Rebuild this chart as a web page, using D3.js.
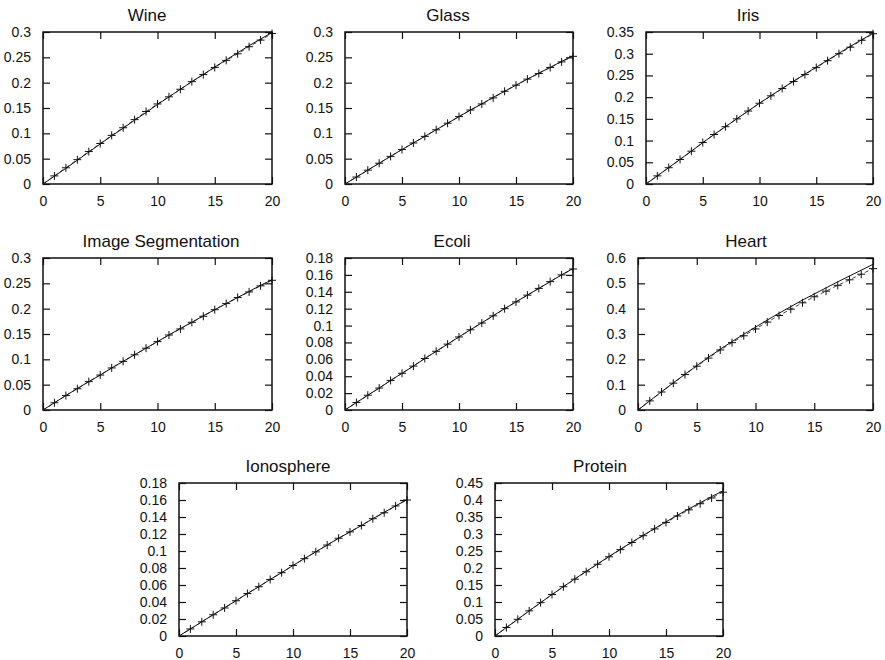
<!DOCTYPE html>
<html>
<head>
<meta charset="utf-8">
<script src="https://cdn.jsdelivr.net/npm/d3@7"></script>
<style>
  body { margin: 0; background: #fff; }
  svg { display: block; }
  text { font-family: "Liberation Sans", Arial, Helvetica, sans-serif; fill: #111; }
</style>
</head>
<body>
<div id="chart"></div>
<script>
// number of dimensions on the x axis of every panel
const dims = [0, 1, 2, 3, 4, 5, 6, 7, 8, 9, 10, 11, 12, 13, 14, 15, 16, 17, 18, 19, 20];
const xTicks = [0, 5, 10, 15, 20];

const wineModel = [0, 0.0155, 0.031, 0.047, 0.063, 0.079, 0.095, 0.110, 0.126, 0.141, 0.157, 0.172, 0.187, 0.202, 0.216, 0.231, 0.245, 0.259, 0.273, 0.286, 0.299];
const wineObs = [0, 0.016, 0.032, 0.048, 0.064, 0.080, 0.096, 0.111, 0.127, 0.143, 0.158, 0.172, 0.187, 0.202, 0.216, 0.230, 0.244, 0.257, 0.271, 0.284, 0.297];

const glassModel = [0, 0.0137, 0.0274, 0.041, 0.0547, 0.068, 0.081, 0.094, 0.107, 0.120, 0.133, 0.146, 0.158, 0.171, 0.183, 0.195, 0.207, 0.219, 0.230, 0.242, 0.253];
const glassObs = [0, 0.0137, 0.0273, 0.041, 0.0545, 0.068, 0.081, 0.094, 0.107, 0.120, 0.133, 0.146, 0.158, 0.170, 0.183, 0.195, 0.207, 0.218, 0.230, 0.241, 0.252];

const irisModel = [0, 0.0188, 0.0377, 0.0567, 0.0757, 0.095, 0.114, 0.132, 0.150, 0.168, 0.186, 0.203, 0.220, 0.237, 0.253, 0.269, 0.285, 0.301, 0.317, 0.332, 0.347];
const irisObs = [0, 0.0187, 0.0375, 0.0565, 0.0755, 0.0955, 0.114, 0.132, 0.150, 0.168, 0.186, 0.203, 0.220, 0.236, 0.252, 0.268, 0.284, 0.300, 0.315, 0.331, 0.346];

const segModel = [0, 0.0143, 0.0286, 0.0425, 0.056, 0.069, 0.083, 0.096, 0.109, 0.122, 0.135, 0.148, 0.161, 0.173, 0.186, 0.198, 0.210, 0.222, 0.234, 0.246, 0.257];
const segObs = [0, 0.0143, 0.0285, 0.042, 0.056, 0.069, 0.083, 0.096, 0.109, 0.122, 0.135, 0.148, 0.160, 0.173, 0.185, 0.198, 0.210, 0.222, 0.233, 0.245, 0.256];

const ecoliModel = [0, 0.0088, 0.0175, 0.026, 0.035, 0.0435, 0.052, 0.061, 0.0695, 0.078, 0.0866, 0.095, 0.1033, 0.1116, 0.120, 0.128, 0.136, 0.144, 0.152, 0.160, 0.1675];
const ecoliObs = [0, 0.0088, 0.0175, 0.026, 0.035, 0.0435, 0.052, 0.061, 0.0695, 0.078, 0.0865, 0.095, 0.103, 0.1115, 0.120, 0.128, 0.136, 0.144, 0.152, 0.160, 0.167];

const heartModel = [0, 0.036, 0.072, 0.107, 0.141, 0.175, 0.208, 0.240, 0.270, 0.299, 0.327, 0.355, 0.382, 0.408, 0.434, 0.458, 0.482, 0.506, 0.529, 0.552, 0.575];
const heartObs = [0, 0.036, 0.071, 0.106, 0.140, 0.173, 0.205, 0.237, 0.266, 0.293, 0.320, 0.347, 0.373, 0.398, 0.423, 0.447, 0.469, 0.492, 0.514, 0.536, 0.558];

const ionoModel = [0, 0.0083, 0.0167, 0.025, 0.0333, 0.0415, 0.050, 0.058, 0.0665, 0.0745, 0.083, 0.091, 0.099, 0.107, 0.115, 0.1225, 0.130, 0.138, 0.1455, 0.153, 0.1605];
const ionoObs = [0, 0.0083, 0.0167, 0.025, 0.033, 0.0415, 0.050, 0.058, 0.0665, 0.0745, 0.083, 0.091, 0.099, 0.107, 0.115, 0.1225, 0.130, 0.138, 0.145, 0.153, 0.160];

const proteinModel = [0, 0.025, 0.049, 0.074, 0.098, 0.122, 0.145, 0.168, 0.190, 0.212, 0.234, 0.255, 0.276, 0.296, 0.316, 0.336, 0.355, 0.374, 0.392, 0.410, 0.427];
const proteinObs = [0, 0.025, 0.049, 0.074, 0.098, 0.122, 0.145, 0.167, 0.189, 0.211, 0.233, 0.254, 0.275, 0.295, 0.315, 0.334, 0.353, 0.371, 0.389, 0.406, 0.423];

// y tick labels of each panel
const yTicks005_03 = [0, 0.05, 0.1, 0.15, 0.2, 0.25, 0.3];
const yTicks005_035 = [0, 0.05, 0.1, 0.15, 0.2, 0.25, 0.3, 0.35];
const yTicks002_018 = [0, 0.02, 0.04, 0.06, 0.08, 0.1, 0.12, 0.14, 0.16, 0.18];
const yTicks01_06 = [0, 0.1, 0.2, 0.3, 0.4, 0.5, 0.6];
const yTicks005_045 = [0, 0.05, 0.1, 0.15, 0.2, 0.25, 0.3, 0.35, 0.4, 0.45];

const titles = ['Wine', 'Glass', 'Iris', 'Image Segmentation', 'Ecoli', 'Heart', 'Ionosphere', 'Protein'];
const models = [wineModel, glassModel, irisModel, segModel, ecoliModel, heartModel, ionoModel, proteinModel];
const observed = [wineObs, glassObs, irisObs, segObs, ecoliObs, heartObs, ionoObs, proteinObs];
const yTickSets = [yTicks005_03, yTicks005_03, yTicks005_035, yTicks005_03, yTicks002_018, yTicks01_06, yTicks002_018, yTicks005_045];

// plot frames on the page (left, top, right, bottom) and where each title is centred
const frames = [
    [43, 32, 272, 184, 147],
    [345, 32, 573, 184, 448],
    [646, 32, 873, 184, 748],
    [43, 258, 272, 410, 161],
    [345, 258, 573, 410, 452],
    [638, 258, 873, 410, 746],
    [179, 483, 407, 636, 288],
    [495, 483, 723, 636, 600]
];

const tickLen = 7;
const fmt = d3.format('~g');

const svg = d3.select('#chart').append('svg')
    .attr('width', 885)
    .attr('height', 660);

titles.forEach((title, i) => {
    const [left, top, right, bottom, titleX] = frames[i];
    const yT = yTickSets[i];

    const x = d3.scaleLinear().domain([0, 20]).range([left, right]);
    const y = d3.scaleLinear().domain([0, yT[yT.length - 1]]).range([bottom, top]);

    const g = svg.append('g');

    // inward ticks on all four sides, labels only bottom and left
    const axes = [
        [d3.axisBottom(x).tickValues(xTicks).tickFormat(fmt), bottom, 'x'],
        [d3.axisTop(x).tickValues(xTicks).tickFormat(''), top, 'x'],
        [d3.axisLeft(y).tickValues(yT).tickFormat(fmt), left, 'y'],
        [d3.axisRight(y).tickValues(yT).tickFormat(''), right, 'y']
    ];
    axes.forEach(([axis, pos, dir]) => {
        const a = g.append('g')
            .attr('transform', dir === 'x' ? `translate(0,${pos})` : `translate(${pos},0)`)
            .call(axis.tickSizeInner(-tickLen).tickSizeOuter(0).tickPadding(tickLen + 5));
        a.select('.domain').remove();
        a.selectAll('line').attr('stroke', '#111').attr('stroke-width', 1.2);
        a.selectAll('text')
            .style('font-family', '"Liberation Sans", Arial, sans-serif')
            .style('font-size', '14px')
            .attr('fill', '#111');
    });

    g.append('rect')
        .attr('x', left)
        .attr('y', top)
        .attr('width', right - left)
        .attr('height', bottom - top)
        .attr('fill', 'none')
        .attr('stroke', '#111')
        .attr('stroke-width', 1.5);

    g.append('text')
        .attr('x', titleX)
        .attr('y', top - 11)
        .attr('text-anchor', 'middle')
        .style('font-size', '17px')
        .text(title);

    const line = d3.line()
        .x((d, k) => x(dims[k]))
        .y(d => y(d));

    g.append('path')
        .datum(observed[i])
        .attr('d', line)
        .attr('fill', 'none')
        .attr('stroke', '#444')
        .attr('stroke-width', 1)
        .attr('stroke-dasharray', '4,3');

    g.append('path')
        .datum(models[i])
        .attr('d', line)
        .attr('fill', 'none')
        .attr('stroke', '#111')
        .attr('stroke-width', 1);

    // + markers at every dimension from 1 on
    const pts = observed[i].map((v, k) => [dims[k], v]).filter(p => p[0] > 0);
    g.selectAll('path.mark')
        .data(pts)
        .enter().append('path')
        .attr('class', 'mark')
        .attr('d', p => {
            const cx = x(p[0]), cy = y(p[1]);
            return `M${cx - 4},${cy}H${cx + 4}M${cx},${cy - 4}V${cy + 4}`;
        })
        .attr('stroke', '#111')
        .attr('stroke-width', 1);
});
</script>
</body>
</html>
